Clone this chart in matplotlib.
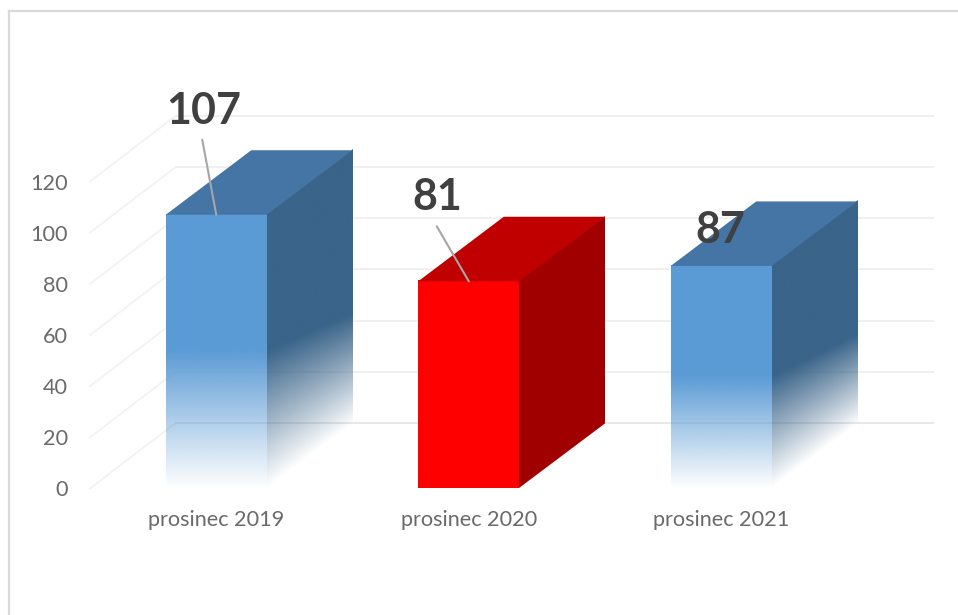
import matplotlib
matplotlib.use('Agg')
import matplotlib.pyplot as plt
import numpy as np
from matplotlib.colors import to_rgb
from matplotlib.lines import Line2D
from matplotlib.transforms import Affine2D

plt.rcParams['font.family'] = ['Lato', 'DejaVu Sans']

# data
mesice = ['prosinec 2019', 'prosinec 2020', 'prosinec 2021']
hodnoty = [107, 81, 87]
osa_y = [0, 20, 40, 60, 80, 100, 120]

barvy_predni = ['#5b9bd5', '#ff0000', '#5b9bd5']
barvy_bok = ['#3a6489', '#a00000', '#3a6489']
barvy_vrch = ['#4475a5', '#c00000', '#4475a5']
prechod = [True, False, True]

# popisky: posun od stredu horni hrany v pixelech
posun_popisku = [(-13, 103.5), (-31.5, 84.5), (-1, 36)]
posun_linky = [(-14, 75), (-32, 55), None]

# rozmery
W, H = 958, 615
SIRKA = 0.4
HL_X = 85.5 / 252.5
HL_Y = 64.5 / 2.558
HL_MRIZKA = 65.5 / 2.558


def stena(ax, x0, x1, y0, y1, skew, barva, fade, fade_vpravo=0.5):
    # jednotkovy obrazek se zkosi na stenu sloupce
    n = 256
    u, v = np.meshgrid((np.arange(64) + 0.5) / 64, (np.arange(n) + 0.5) / n)
    rgba = np.zeros((n, 64, 4))
    rgba[:, :, :3] = to_rgb(barva)
    rgba[:, :, 3] = np.clip(v / (0.5 + (fade_vpravo - 0.5) * u), 0, 1) if fade else 1.0
    tr = Affine2D.from_values(x1 - x0, skew, 0, y1 - y0, x0, y0) + ax.transData
    ax.imshow(rgba, origin='lower', extent=(0, 1, 0, 1), transform=tr, aspect='auto',
              interpolation='bilinear', zorder=3, clip_on=False)


fig = plt.figure(figsize=(W / 100, H / 100), dpi=100, facecolor='white')
ax = fig.add_axes([90 / W, (H - 488.5) / H, 757.5 / W, 307 / H])
ax.set_facecolor('none')
for s in ax.spines.values():
    s.set_visible(False)

# zadni stena a podlaha
x_pravy = 2.5 + 85.5 / 252.5
for v in osa_y:
    barva = '#e8e8e8' if v == 0 else '#f0f0f0'
    ax.plot([-0.5, -0.5 + HL_X], [v, v + HL_MRIZKA], color='#f2f2f2', lw=1.3, clip_on=False, zorder=1)
    ax.plot([-0.5 + HL_X, x_pravy], [v + HL_MRIZKA, v + HL_MRIZKA], color=barva, lw=1.4, clip_on=False, zorder=1)

# sloupce
for i, val in enumerate(hodnoty):
    x0 = i - SIRKA / 2
    x1 = i + SIRKA / 2
    stena(ax, x0, x1, 0, val, 0, barvy_predni[i], prechod[i])
    stena(ax, x1, x1 + HL_X, 0, val, HL_Y, barvy_bok[i], prechod[i], fade_vpravo=0.4)
    ax.fill([x0, x1, x1 + HL_X, x0 + HL_X], [val, val, val + HL_Y, val + HL_Y],
            color=barvy_vrch[i], lw=0, zorder=3, clip_on=False)

    if posun_linky[i] is not None:
        dx, dy = posun_linky[i]
        ax.annotate('', xy=(i, val), xytext=(dx * 0.72, dy * 0.72), textcoords='offset points',
                    arrowprops=dict(arrowstyle='-', color='#a6a6a6', lw=1.5,
                                    shrinkA=0, shrinkB=0), zorder=4, annotation_clip=False)
    dx, dy = posun_popisku[i]
    ax.annotate(str(val), xy=(i, val), xytext=(dx * 0.72, dy * 0.72), textcoords='offset points',
                ha='center', va='center', fontsize=31, fontweight='bold', color='#404040',
                zorder=5, annotation_clip=False)

ax.set_xlim(-0.5, 2.5)
ax.set_ylim(0, 120)
ax.set_yticks(osa_y)
ax.set_yticklabels([str(v) for v in osa_y], fontsize=15.6, color='#6a6a6a')
ax.set_xticks(range(len(mesice)))
ax.set_xticklabels(mesice, fontsize=15.6, color='#6a6a6a')
ax.tick_params(axis='both', length=0)
ax.tick_params(axis='y', pad=16)
ax.tick_params(axis='x', pad=15.5)

# ramecek obrazku
fig.add_artist(Line2D([9 / W, 9 / W], [0, 1 - 11 / H], color='#d9d9d9', lw=1.6))
fig.add_artist(Line2D([8.5 / W, 1], [1 - 11 / H, 1 - 11 / H], color='#d9d9d9', lw=1.6))

fig.savefig('out.png', dpi=100)
